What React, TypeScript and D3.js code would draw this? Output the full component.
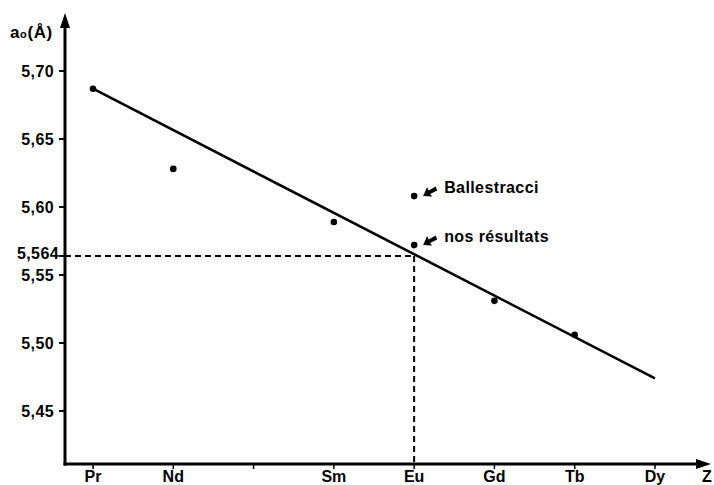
import React from "react";
import * as d3 from "d3";

const elementZ = [59, 60, 61, 62, 63, 64, 65, 66];
const elementLabels = ["Pr", "Nd", "", "Sm", "Eu", "Gd", "Tb", "Dy"];

const yTickValues = [5.7, 5.65, 5.6, 5.564, 5.55, 5.5, 5.45];
const yTickLabels = ["5,70", "5,65", "5,60", "5,564", "5,55", "5,50", "5,45"];

const pointZ = [59, 60, 62, 63, 64, 65];
const pointA = [5.687, 5.628, 5.589, 5.572, 5.531, 5.506];

const ballestracciZ = [63];
const ballestracciA = [5.608];

const fitZ = [59, 66];
const fitA = [5.687, 5.474];

const euZ = 63;
const euA = 5.564;

const FONT = "'Liberation Sans', Arial, Helvetica, sans-serif";

export default function App() {
  const x = d3.scaleLinear().domain([59, 66]).range([93, 655]);
  const y = d3.scaleLinear().domain([5.45, 5.7]).range([411, 71]);

  const axisX = 65;
  const axisY = 464;

  const line = d3
    .line<number>()
    .x((_, i) => x(fitZ[i]))
    .y((d) => y(d));

  const annotations = [
    { z: ballestracciZ[0], a: ballestracciA[0], text: "Ballestracci" },
    { z: euZ, a: pointA[3], text: "nos résultats" },
  ];

  return (
    <svg
      width={714}
      height={485}
      style={{ position: "absolute", left: 0, top: 0, background: "#fff" }}
      fontFamily={FONT}
    >
      <rect x={0} y={0} width={714} height={485} fill="#fff" />
      {/* dashed guides */}
      <line
        x1={axisX}
        x2={x(euZ)}
        y1={y(euA)}
        y2={y(euA)}
        stroke="#000"
        strokeWidth={2}
        strokeDasharray="6,4"
      />
      <line
        x1={x(euZ)}
        x2={x(euZ)}
        y1={y(euA)}
        y2={axisY}
        stroke="#000"
        strokeWidth={2}
        strokeDasharray="6,4"
      />
      {/* fit line */}
      <path d={line(fitA) || ""} fill="none" stroke="#000" strokeWidth={2.6} />
      {/* points */}
      {pointZ.map((z, i) => (
        <circle key={"p" + i} cx={x(z)} cy={y(pointA[i])} r={3.3} fill="#000" />
      ))}
      {ballestracciZ.map((z, i) => (
        <circle key={"b" + i} cx={x(z)} cy={y(ballestracciA[i])} r={3.3} fill="#000" />
      ))}
      {/* annotations */}
      {annotations.map((an, i) => {
        const px = x(an.z);
        const py = y(an.a);
        const ax = px + 9;
        const ay = py;
        return (
          <g key={"an" + i}>
            <path
              d={`M${ax},${ay} l4,-9 l1.5,3.5 l7,-4 l1.5,4 l-7,3.5 l2,2.5 z`}
              fill="#000"
            />
            <text
              x={px + 30}
              y={py - 3}
              fontSize={16}
              fontWeight="bold"
              letterSpacing={0.4}
              fill="#000"
            >
              {an.text}
            </text>
          </g>
        );
      })}
      {/* axes */}
      <line x1={axisX} x2={axisX} y1={axisY + 1.5} y2={26} stroke="#000" strokeWidth={3} />
      <path d={`M${axisX - 5},${28} L${axisX},${13} L${axisX + 5},${28} Z`} fill="#000" />
      <line x1={axisX - 1.5} x2={698} y1={axisY} y2={axisY} stroke="#000" strokeWidth={3} />
      <path d={`M${696},${axisY - 5} L${711},${axisY} L${696},${axisY + 5} Z`} fill="#000" />
      {/* y ticks */}
      {yTickValues.map((v, i) => (
        <g key={"yt" + i}>
          <line x1={axisX - 6} x2={axisX} y1={y(v)} y2={y(v)} stroke="#000" strokeWidth={2} />
          <text
            x={axisX - (v === euA ? 6 : 11)}
            y={y(v) + (v === euA ? -3 : 0)}
            dy="0.36em"
            textAnchor="end"
            fontSize={16}
            fontWeight="bold"
            letterSpacing={0.4}
            fill="#000"
          >
            {yTickLabels[i]}
          </text>
        </g>
      ))}
      {/* x ticks */}
      {elementZ.map((z, i) => (
        <g key={"xt" + i}>
          <line x1={x(z)} x2={x(z)} y1={axisY} y2={axisY + 5} stroke="#000" strokeWidth={1.5} />
          <text
            x={x(z)}
            y={axisY + 18}
            textAnchor="middle"
            fontSize={16}
            fontWeight="bold"
            fill="#000"
          >
            {elementLabels[i]}
          </text>
        </g>
      ))}
      <text x={707} y={axisY + 18} textAnchor="middle" fontSize={16} fontWeight="bold" fill="#000">
        Z
      </text>
      {/* y axis title */}
      <text x={10} y={38} fontSize={17} fontWeight="bold" letterSpacing={0.6} fill="#000">
        a
        <tspan fontSize={11} dy={0}>o</tspan>
        <tspan dy={0}>(Å)</tspan>
      </text>
    </svg>
  );
}
